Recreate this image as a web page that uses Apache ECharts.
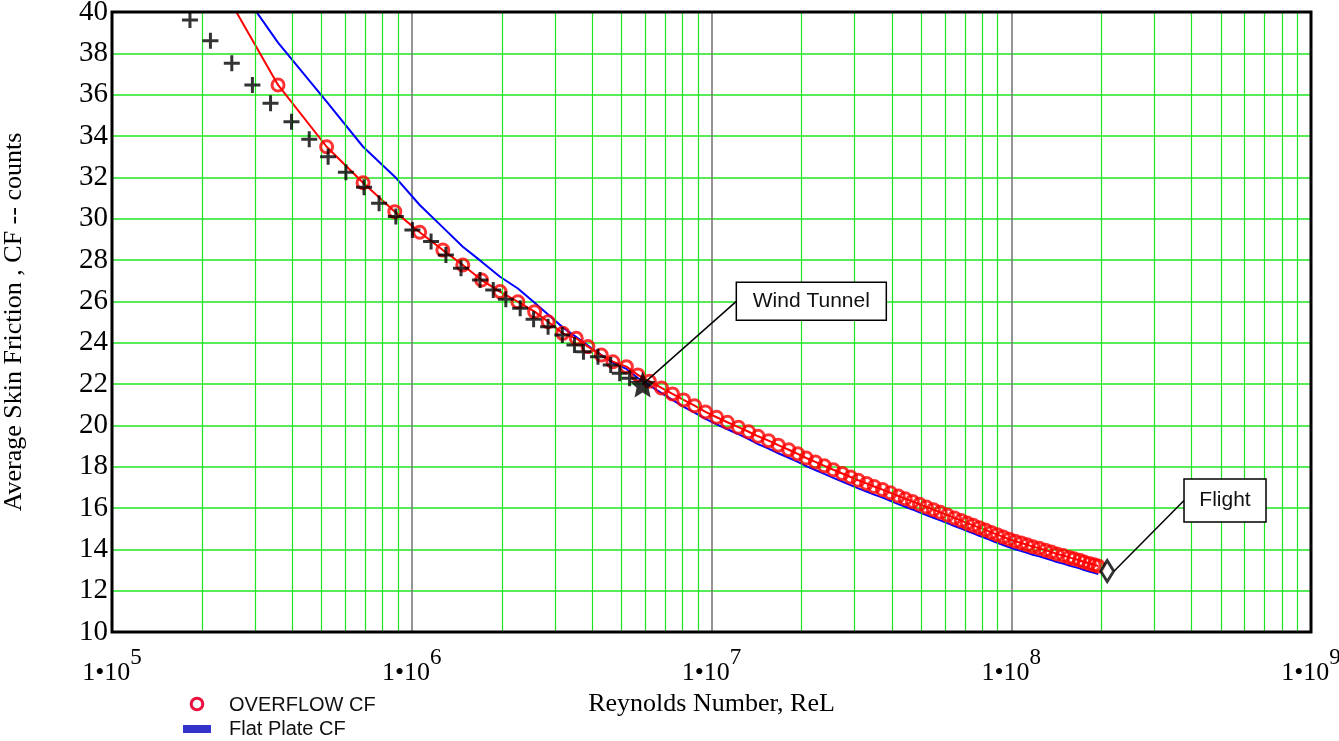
<!DOCTYPE html>
<html>
<head>
<meta charset="utf-8">
<script src="https://cdn.jsdelivr.net/npm/echarts@6/dist/echarts.min.js"></script>
<style>
  html, body { margin: 0; padding: 0; background: #ffffff; }
  #chart { width: 1339px; height: 741px; }
</style>
</head>
<body>
<div id="chart"></div>
<script>
// Reynolds-number stations of the OVERFLOW solution and the flat-plate estimate
const reynolds = [
  2.5e5, 3.58e5, 5.20e5, 6.88e5, 8.78e5, 1.063e6, 1.27e6, 1.48e6, 1.71e6, 1.97e6,
  2.26e6, 2.57e6, 2.85e6, 3.19e6, 3.54e6, 3.87e6, 4.29e6, 4.69e6, 5.20e6, 5.68e6,
  6.21e6, 6.81e6, 7.41e6, 8.07e6, 8.78e6, 9.55e6, 1.04e7, 1.13e7, 1.23e7, 1.33e7,
  1.43e7, 1.55e7, 1.67e7, 1.81e7, 1.94e7, 2.07e7, 2.22e7, 2.38e7, 2.55e7, 2.73e7,
  2.91e7, 3.09e7, 3.29e7, 3.49e7, 3.72e7, 3.95e7, 4.20e7, 4.43e7, 4.68e7, 4.94e7,
  5.21e7, 5.50e7, 5.80e7, 6.12e7, 6.46e7, 6.81e7, 7.13e7, 7.47e7, 7.82e7, 8.19e7,
  8.58e7, 8.98e7, 9.40e7, 9.85e7, 1.031e8, 1.08e8, 1.13e8, 1.18e8, 1.24e8, 1.30e8,
  1.36e8, 1.42e8, 1.49e8, 1.56e8, 1.62e8, 1.69e8, 1.75e8, 1.82e8, 1.89e8, 1.95e8
];

// Average skin friction (counts) from OVERFLOW
const cfOverflow = [
  40.43, 36.47, 33.48, 31.74, 30.34, 29.34, 28.48, 27.76, 27.03, 26.47,
  25.98, 25.50, 25.01, 24.45, 24.21, 23.81, 23.40, 23.08, 22.84, 22.44,
  22.13, 21.81, 21.52, 21.23, 20.95, 20.65, 20.39, 20.15, 19.91, 19.69,
  19.47, 19.26, 19.04, 18.82, 18.62, 18.42, 18.23, 18.04, 17.85, 17.67,
  17.50, 17.34, 17.19, 17.04, 16.89, 16.74, 16.58, 16.45, 16.32, 16.18,
  16.05, 15.92, 15.79, 15.66, 15.52, 15.39, 15.27, 15.16, 15.05, 14.94,
  14.82, 14.71, 14.60, 14.49, 14.39, 14.31, 14.22, 14.13, 14.05, 13.96,
  13.87, 13.78, 13.70, 13.61, 13.54, 13.47, 13.39, 13.32, 13.25, 13.19
];

// Flat plate skin friction (counts)
const cfFlatPlate = [
  41.74, 38.52, 35.66, 33.48, 32.03, 30.66, 29.58, 28.64, 27.92, 27.19,
  26.62, 25.93, 25.36, 24.74, 24.27, 23.86, 23.40, 23.03, 22.73, 22.29,
  21.93, 21.56, 21.23, 20.89, 20.61, 20.31, 20.05, 19.81, 19.57, 19.33,
  19.09, 18.87, 18.65, 18.43, 18.23, 18.03, 17.84, 17.65, 17.46, 17.28,
  17.11, 16.95, 16.80, 16.65, 16.50, 16.35, 16.19, 16.06, 15.93, 15.79,
  15.66, 15.53, 15.40, 15.27, 15.13, 15.00, 14.88, 14.77, 14.66, 14.55,
  14.43, 14.32, 14.21, 14.10, 14.00, 13.92, 13.83, 13.74, 13.66, 13.57,
  13.48, 13.39, 13.31, 13.22, 13.15, 13.08, 13.00, 12.93, 12.86, 12.80
];

// First station that carries a circle marker
const firstMarkedStation = 1;

// Wind tunnel test points
const reTest = [
  1.82e5, 2.13e5, 2.51e5, 2.94e5, 3.38e5, 3.97e5, 4.55e5, 5.26e5, 6.03e5, 6.93e5,
  7.78e5, 8.85e5, 1.005e6, 1.16e6, 1.30e6, 1.46e6, 1.69e6, 1.87e6, 2.06e6, 2.30e6,
  2.55e6, 2.85e6, 3.18e6, 3.49e6, 3.74e6, 4.18e6, 4.61e6, 4.94e6, 5.33e6
];
const cfTest = [
  39.61, 38.61, 37.52, 36.47, 35.58, 34.69, 33.84, 33.00, 32.24, 31.52,
  30.74, 30.10, 29.45, 28.89, 28.24, 27.60, 27.03, 26.55, 26.10, 25.66,
  25.13, 24.77, 24.37, 23.89, 23.56, 23.32, 22.92, 22.52, 22.28
];

// Highlighted conditions
const windTunnelPoint = [5.89e6, 21.98];
const flightPoint = [2.09e8, 12.95];

// Callout anchors (left-middle of each text box), in data units
const windTunnelLabelAt = [1.21e7, 26.0];
const flightLabelAt = [3.77e8, 16.36];

// Axis ticks
const xTickExponents = ['5', '6', '7', '8', '9'];
const yMin = 10, yMax = 40, yStep = 2;

// Log-decade minor grid
const decades = [1e5, 1e6, 1e7, 1e8];
const minorMultipliers = [2, 3, 4, 5, 6, 7, 8, 9];

const serif = '"Liberation Serif", "Times New Roman", Times, serif';
const sans = '"Liberation Sans", Arial, Helvetica, sans-serif';

const zip = (xs, ys) => xs.map((x, i) => [x, ys[i]]);
const minorLines = [];
decades.forEach(d => minorMultipliers.forEach(m => minorLines.push({ xAxis: d * m })));

const starPath = 'path://M0,-1L0.27,-0.37L0.951,-0.309L0.44,0.143L0.588,0.809L0,0.46L-0.588,0.809L-0.44,0.143L-0.951,-0.309L-0.27,-0.37Z';
const plusPath = 'path://M-1.5,-8H1.5V-1.5H8V1.5H1.5V8H-1.5V1.5H-8V-1.5H-1.5Z';

const chart = echarts.init(document.getElementById('chart'), null, { renderer: 'canvas' });

chart.setOption({
  animation: false,
  backgroundColor: '#ffffff',
  grid: {
    left: 112, top: 12, width: 1199, height: 620,
    outerBoundsMode: 'none',
    containLabel: false,
    show: true, borderColor: '#000000', borderWidth: 3,
    backgroundColor: 'rgba(0,0,0,0)', z: 10
  },
  xAxis: {
    type: 'log', logBase: 10, min: 1e5, max: 1e9,
    axisLine: { show: false },
    axisTick: { show: false },
    splitLine: {
      show: true, showMinLine: false, showMaxLine: false,
      lineStyle: { color: '#7a7a7a', width: 1.6 }
    },
    axisLabel: {
      margin: 14,
      hideOverlap: false,
      formatter: (value, index) => '{m|1•10}{e|' + xTickExponents[index] + '}',
      rich: {
        m: { fontFamily: serif, fontSize: 26, color: '#000000' },
        e: { fontFamily: serif, fontSize: 23, color: '#000000', padding: [0, 0, 32, 0] }
      }
    },
    name: 'Reynolds Number, ReL',
    nameLocation: 'middle',
    nameGap: 59,
    nameTextStyle: { fontFamily: serif, fontSize: 26, color: '#000000' }
  },
  yAxis: {
    type: 'value', min: yMin, max: yMax, interval: yStep,
    axisLine: { show: false },
    axisTick: { show: false },
    splitLine: {
      show: true, showMinLine: false, showMaxLine: false,
      lineStyle: { color: '#22e622', width: 1.6 }
    },
    axisLabel: { fontFamily: serif, fontSize: 29, color: '#000000', margin: 4 },
    name: 'Average Skin Friction , CF -- counts',
    nameLocation: 'middle',
    nameGap: 85,
    nameTextStyle: { fontFamily: serif, fontSize: 26, color: '#000000' }
  },
  series: [
    {
      name: 'minor grid',
      type: 'line',
      data: [],
      silent: true,
      z: 1,
      markLine: {
        silent: true,
        symbol: ['none', 'none'],
        label: { show: false },
        lineStyle: { color: '#1ee61e', width: 1.2, type: 'solid' },
        data: minorLines
      }
    },
    {
      name: 'Flat Plate CF',
      type: 'line',
      data: zip(reynolds, cfFlatPlate),
      showSymbol: false,
      clip: true,
      lineStyle: { color: '#0000ff', width: 2 },
      z: 3
    },
    {
      name: 'OVERFLOW CF line',
      type: 'line',
      data: zip(reynolds, cfOverflow),
      showSymbol: false,
      clip: true,
      lineStyle: { color: '#ff0000', width: 2 },
      z: 4
    },
    {
      name: 'OVERFLOW CF',
      type: 'scatter',
      data: zip(reynolds.slice(firstMarkedStation), cfOverflow.slice(firstMarkedStation)),
      symbol: 'circle',
      symbolSize: 12,
      itemStyle: { color: 'rgba(255,255,255,0)', borderColor: '#ff0000', borderWidth: 3 },
      z: 5
    },
    {
      name: 'Wind tunnel data',
      type: 'scatter',
      data: zip(reTest, cfTest),
      symbol: plusPath,
      symbolSize: 16,
      itemStyle: { color: '#000000' },
      z: 6
    },
    {
      name: 'Wind Tunnel',
      type: 'scatter',
      data: [windTunnelPoint],
      symbol: starPath,
      symbolSize: 26,
      itemStyle: { color: '#000000' },
      z: 7
    },
    {
      name: 'Flight',
      type: 'scatter',
      data: [flightPoint],
      symbol: 'diamond',
      symbolSize: [13, 21],
      itemStyle: { color: '#ffffff', borderColor: '#000000', borderWidth: 3 },
      z: 8
    }
  ]
});

// Callout boxes and legend
function callout(point, anchor, text, boxW, boxH, startDx) {
  const p = chart.convertToPixel({ gridIndex: 0 }, point);
  const a = chart.convertToPixel({ gridIndex: 0 }, anchor);
  return [
    {
      type: 'line', z: 100, silent: true,
      shape: { x1: p[0] + startDx, y1: p[1], x2: a[0], y2: a[1] },
      style: { stroke: '#000000', lineWidth: 1.5 }
    },
    {
      type: 'rect', z: 100, silent: true,
      shape: { x: a[0], y: a[1] - boxH / 2, width: boxW, height: boxH },
      style: { fill: '#ffffff', stroke: '#000000', lineWidth: 1.5 }
    },
    {
      type: 'text', z: 101, silent: true,
      x: a[0] + boxW / 2, y: a[1],
      style: { text: text, font: '21px ' + sans, fill: '#111111', align: 'center', verticalAlign: 'middle' }
    }
  ];
}

const legendItems = [
  {
    type: 'circle', silent: true,
    shape: { cx: 197, cy: 704, r: 5.8 },
    style: { fill: '#ffffff', stroke: '#ea1040', lineWidth: 3 }
  },
  {
    type: 'text', silent: true, x: 229, y: 705,
    style: { text: 'OVERFLOW CF', font: '20px ' + sans, fill: '#111111', verticalAlign: 'middle' }
  },
  {
    type: 'rect', silent: true,
    shape: { x: 183, y: 725, width: 28, height: 8 },
    style: { fill: '#3333cc' }
  },
  {
    type: 'text', silent: true, x: 229, y: 729,
    style: { text: 'Flat Plate CF', font: '20px ' + sans, fill: '#111111', verticalAlign: 'middle' }
  }
];

chart.setOption({
  graphic: [].concat(
    callout(windTunnelPoint, windTunnelLabelAt, 'Wind Tunnel', 150, 38, 0),
    callout(flightPoint, flightLabelAt, 'Flight', 82, 43, 7),
    legendItems
  )
});
</script>
</body>
</html>
